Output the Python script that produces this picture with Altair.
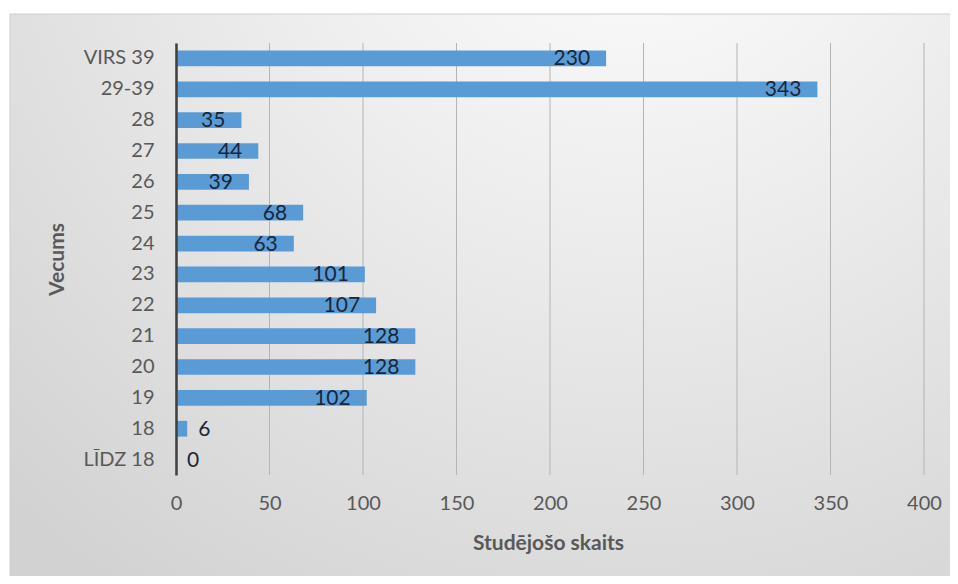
import altair as alt
import pandas as pd

categories = ["VIRS 39", "29-39", "28", "27", "26", "25", "24", "23", "22",
              "21", "20", "19", "18", "LĪDZ 18"]
values = [230, 343, 35, 44, 39, 68, 63, 101, 107, 128, 128, 102, 6, 0]
tick_values = [0, 50, 100, 150, 200, 250, 300, 350, 400]

df = pd.DataFrame({"Vecums": categories, "Skaits": values})
ticks_df = pd.DataFrame({"t": tick_values})

W, H = 748, 432
FONT = "Lato"
GRAY = "#595959"

xscale = alt.Scale(domain=[0, 400], nice=False)
yscale = alt.Scale(paddingInner=0.49, paddingOuter=0.245)

x_axis = alt.Axis(values=tick_values, grid=False, domain=False, ticks=False,
                  labelFlush=False, labelPadding=18, labelFontSize=20,
                  labelColor=GRAY, labelFont=FONT,
                  title="Studējošo skaits", titleFont=FONT, titleFontSize=21,
                  titleFontWeight="bold", titleColor=GRAY, titleX=372, titleY=68,
                  titleBaseline="middle", titleAlign="center", zindex=1)
y_axis = alt.Axis(grid=False, ticks=False, domain=True, domainColor="#404040",
                  domainWidth=2.5, labelPadding=22, labelFontSize=20,
                  labelColor=GRAY, labelFont=FONT,
                  title="Vecums", titleFont=FONT, titleFontSize=21,
                  titleFontWeight="bold", titleColor=GRAY, titleX=-119, titleY=216,
                  titleAngle=-90, titleBaseline="middle", titleAlign="center", zindex=1)

bg = alt.Chart(df).mark_rect(
    fill={
        "gradient": "radial",
        "x1": 0.65, "y1": 0.02, "r1": 0,
        "x2": 0.65, "y2": 0.02, "r2": 0.95,
        "stops": [
            {"offset": 0, "color": "#ffffff"},
            {"offset": 0.4, "color": "#eeeeee"},
            {"offset": 1, "color": "#d2d2d2"},
        ],
    },
    stroke="#cfcfcf", strokeWidth=1,
).encode(
    x=alt.value(-166), x2=alt.value(790), y=alt.value(-29), y2=alt.value(545)
).transform_filter("datum.Vecums == 'VIRS 39'")

grid = alt.Chart(ticks_df).mark_rule(color="#b4b4b4", strokeWidth=1).encode(
    x=alt.X("t:Q", scale=xscale, axis=x_axis)
)

bars = alt.Chart(df).mark_bar(color="#5B9BD5").encode(
    x=alt.X("Skaits:Q", scale=xscale, axis=x_axis),
    y=alt.Y("Vecums:N", sort=categories, scale=yscale, axis=y_axis),
)

labels_in = alt.Chart(df).transform_filter("datum.Skaits >= 20").mark_text(
    align="right", baseline="middle", dx=-16, dy=1, font=FONT, fontSize=21,
    color="#18263a"
).encode(
    x=alt.X("Skaits:Q", scale=xscale),
    y=alt.Y("Vecums:N", sort=categories, scale=yscale),
    text="Skaits:Q",
)

labels_out = alt.Chart(df).transform_filter("datum.Skaits < 20").mark_text(
    align="left", baseline="middle", dx=11, dy=1, font=FONT, fontSize=21,
    color="#18263a"
).encode(
    x=alt.X("Skaits:Q", scale=xscale),
    y=alt.Y("Vecums:N", sort=categories, scale=yscale),
    text="Skaits:Q",
)

chart = alt.layer(bg, grid, bars, labels_in, labels_out).properties(
    width=W, height=H,
    autosize=alt.AutoSizeParams(type="none"),
    padding={"left": 168, "top": 35, "right": 26, "bottom": 101},
).configure_view(stroke=None).configure(background="#ffffff")

chart.save("out.html", embed_options={"renderer": "svg", "actions": False})
